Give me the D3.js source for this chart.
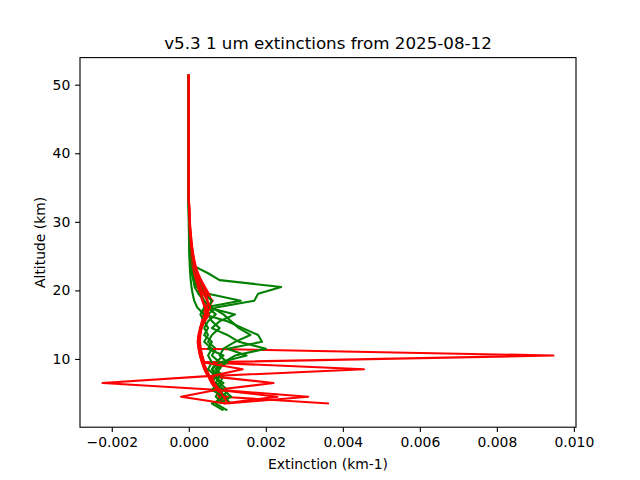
<!DOCTYPE html>
<html>
<head>
<meta charset="utf-8">
<script src="https://cdn.jsdelivr.net/npm/d3@7"></script>
<style>
  body { margin: 0; background: #fff; }
  svg { display: block; font-family: "DejaVu Sans", sans-serif; }
</style>
</head>
<body>
<svg id="chart" width="640" height="480"></svg>
<script>
// Altitude grid (km), top to bottom
const altitudes = [51.5,50.5,49.5,48.5,47.5,46.5,45.5,44.5,43.5,42.5,41.5,40.5,39.5,38.5,37.5,36.5,35.5,34.5,33.5,
  32.5,31.5,30.5,29.5,28.5,27.5,26.5,25.5,24.5,23.5,22.5,21.5,20.5,19.5,18.5,17.5,16.5,15.5,14.5,13.5,12.5,11.5,10.5,9.5,8.5,7.5,6.5,5.5,4.5,3.5,2.5];

// Green profiles (extinction, km-1)
const green1 = [0,0,0,0,0,0,0,0,0,0,0,0,0,0,0,0,0,0,0,
  0,0.000002,0.000005,0.000008,0.000012,0.000018,0.000025,0.000035,0.00005,0.00015,0.0005,0.0008,0.0024,0.0018,0.0017,0.0007,0.0005,0.0006,0.0008,0.0006,0.0005,0.0007,0.0006,0.0008,0.0007,0.0009,0.0008,0.0010,0.0009,0.0011,null];
const green2 = [0,0,0,0,0,0,0,0,0,0,0,0,0,0,0,0,0,0,0,
  0,0.000001,0.000002,0.000004,0.000006,0.00001,0.000015,0.00002,0.00003,0.00005,0.00008,0.00012,0.0002,0.0005,0.00135,0.0004,0.0003,0.0004,0.0005,0.0004,0.0006,0.0005,0.0009,0.0007,0.0006,0.0008,0.0007,0.0009,0.0008,0.0007,0.0010];
const green3 = [0,0,0,0,0,0,0,0,0,0,0,0,0,0,0,0,0,0,0,
  0,0,0,0,0.000003,0.000005,0.000008,0.000012,0.000018,0.000025,0.000035,0.00005,0.00007,0.0001,0.00014,0.00022,0.0004,0.0010,0.0014,0.0018,0.0019,0.0010,0.0015,0.0008,0.0006,0.0007,0.0006,0.0008,0.0007,0.0009,null];
const green4 = [0,0,0,0,0,0,0,0,0,0,0,0,0,0,0,0,0,0,0,
  0,0.000003,0.000006,0.00001,0.000015,0.000022,0.00003,0.00004,0.00006,0.00008,0.0001,0.00015,0.00025,0.0003,0.0004,0.0005,0.0012,0.0008,0.0006,0.0010,0.0013,0.0020,0.0012,0.0009,0.0008,0.0006,0.0009,0.0007,0.0010,0.0006,0.0009];
const green5 = [0,0,0,0,0,0,0,0,0,0,0,0,0,0,0,0,0,0,0,
  0,0.000002,0.000004,0.000007,0.00001,0.000015,0.00002,0.00003,0.00004,0.00006,0.00009,0.00012,0.00015,0.00025,0.0004,0.0006,0.0009,0.0011,0.0013,0.0016,0.0012,0.0009,0.0008,0.0010,0.0007,0.0008,0.0007,0.0009,0.0011,0.0008,null];
const green6 = [0,0,0,0,0,0,0,0,0,0,0,0,0,0,0,0,0,0,0,
  0,0.000004,0.000008,0.000014,0.00002,0.00003,0.00004,0.00006,0.00009,0.00013,0.00018,0.00025,0.00032,0.0004,0.0006,0.0005,0.0007,0.0005,0.0004,0.0005,0.0004,0.0006,0.0005,0.0006,0.0005,0.0007,0.0008,0.0006,0.0009,0.0007,null];

// Red profiles (extinction, km-1)
const red1 = [0,0,0,0,0,0,0,0,0,0,0,0,0,0,0,0,0,0,0,
  0.000005,0.00001,0.000015,0.00002,0.00003,0.00004,0.000055,0.00007,0.00009,0.00012,0.00016,0.00021,0.00027,0.00033,0.00038,0.00040,0.00038,0.00034,0.00030,0.00027,0.00026,0.00028,0.00947,0.00036,0.00043,0.00051,0.00060,0.00070,0.00082,0.00093,null];
const red2 = [0,0,0,0,0,0,0,0,0,0,0,0,0,0,0,0,0,0,0,
  0.00001,0.000015,0.000025,0.000035,0.00005,0.000065,0.000085,0.00011,0.00014,0.00018,0.00024,0.00032,0.00042,0.00052,0.00058,0.00055,0.00046,0.00038,0.00032,0.00029,0.00028,0.00030,0.00034,0.00039,0.00455,0.00056,0.00064,0.00076,0.00310,0.00098,null];
const red3 = [0,0,0,0,0,0,0,0,0,0,0,0,0,0,0,0,0,0,0,
  0.000003,0.000006,0.00001,0.000015,0.000022,0.00003,0.000042,0.000055,0.000075,0.0001,0.000135,0.00018,0.00023,0.00029,0.00035,0.00042,0.00046,0.00040,0.00033,0.00028,0.00025,0.00026,0.00029,0.00034,0.00040,0.00049,-0.00224,0.00068,0.00079,0.00088,null];
const red4 = [0,0,0,0,0,0,0,0,0,0,0,0,0,0,0,0,0,0,0,
  0.000006,0.000012,0.000018,0.000025,0.000035,0.00005,0.000065,0.000085,0.00011,0.00015,0.0002,0.00028,0.00036,0.00046,0.00062,0.00050,0.00044,0.00036,0.00031,0.00028,0.00027,0.00029,0.00033,0.00038,0.00046,0.00054,0.00220,0.00073,0.00086,0.00364,null];
const red5 = [0,0,0,0,0,0,0,0,0,0,0,0,0,0,0,0,0,0,0,
  0.000004,0.000008,0.000012,0.000018,0.000025,0.000035,0.000048,0.000062,0.00008,0.000105,0.00014,0.00019,0.00025,0.00031,0.00036,0.00044,0.00052,0.00042,0.00032,0.00026,0.00024,0.00027,0.00030,0.00035,0.00042,0.00050,0.00059,0.00071,0.00230,0.00090,null];
const red6 = [0,0,0,0,0,0,0,0,0,0,0,0,0,0,0,0,0,0,0,
  0.000005,0.00001,0.000016,0.000022,0.000032,0.000045,0.00006,0.00008,0.000105,0.00014,0.00019,0.00024,0.00030,0.00038,0.00048,0.00056,0.00044,0.00035,0.00029,0.00025,0.00023,0.00025,0.00029,0.00035,0.00044,0.00053,0.00063,0.00074,-0.00020,0.00096,null];
const red7 = [0,0,0,0,0,0,0,0,0,0,0,0,0,0,0,0,0,0,0,
  0.000007,0.000014,0.00002,0.00003,0.000042,0.000058,0.000078,0.0001,0.00013,0.00017,0.00023,0.00030,0.00038,0.00044,0.00049,0.00048,0.00042,0.00037,0.00033,0.00030,0.00029,0.00031,0.00035,0.00040,0.00140,0.00058,0.00066,0.00079,0.00090,0.00102,null];

const greenProfiles = [green1, green2, green3, green4, green5, green6];
const redProfiles = [red1, red2, red3, red4, red5, red6, red7];

const xTicks = [-0.002, 0.000, 0.002, 0.004, 0.006, 0.008, 0.010];
const yTicks = [10, 20, 30, 40, 50];

const titleText = "v5.3 1 um extinctions from 2025-08-12";
const xLabel = "Extinction (km-1)";
const yLabel = "Altitude (km)";

// ---- layout ----
const W = 640, H = 480;
const m = {left: 80, right: 576, top: 57.6, bottom: 427.2};
const svg = d3.select("#chart");

const allVals = greenProfiles.concat(redProfiles).flat().filter(v => v !== null);
const [xmin, xmax] = d3.extent(allVals);
const xpad = (xmax - xmin) * 0.05;
const [ymin, ymax] = d3.extent(altitudes);
const ypad = (ymax - ymin) * 0.05;

const x = d3.scaleLinear().domain([xmin - xpad, xmax + xpad]).range([m.left, m.right]);
const y = d3.scaleLinear().domain([ymin - ypad, ymax + ypad]).range([m.bottom, m.top]);

const line = d3.line()
  .defined(d => d[0] !== null)
  .x(d => x(d[0]))
  .y(d => y(d[1]));

const plot = svg.append("g");
const order = [];
for (let i = 0; i < Math.max(greenProfiles.length, redProfiles.length); i++) {
  if (greenProfiles[i]) order.push({vals: greenProfiles[i], color: "#008000"});
  if (redProfiles[i]) order.push({vals: redProfiles[i], color: "#ff0000"});
}
plot.selectAll("path.prof").data(order).enter().append("path")
  .attr("class", "prof")
  .attr("fill", "none")
  .attr("stroke", d => d.color)
  .attr("stroke-width", 2.08)
  .attr("stroke-linejoin", "round")
  .attr("stroke-linecap", "butt")
  .attr("d", d => line(d.vals.map((v, i) => [v, altitudes[i]])));

// axes
const fmt = v => d3.format(".3f")(v).replace("-", "\u2212");
const xAxis = d3.axisBottom(x).tickValues(xTicks).tickFormat(fmt).tickSizeOuter(0).tickSize(4.86).tickPadding(4.86);
const yAxis = d3.axisLeft(y).tickValues(yTicks).tickFormat(d3.format("d")).tickSizeOuter(0).tickSize(4.86).tickPadding(4.86);

const gx = svg.append("g").attr("transform", `translate(0,${m.bottom})`).call(xAxis);
const gy = svg.append("g").attr("transform", `translate(${m.left},0)`).call(yAxis);
[gx, gy].forEach(g => {
  g.select(".domain").remove();
  g.selectAll(".tick line").attr("stroke", "#000").attr("stroke-width", 1.11);
  g.selectAll(".tick text").attr("fill", "#000").attr("font-size", "13.9px").attr("font-family", "DejaVu Sans");
});

// spines
svg.append("rect")
  .attr("x", m.left).attr("y", m.top)
  .attr("width", m.right - m.left).attr("height", m.bottom - m.top)
  .attr("fill", "none").attr("stroke", "#000").attr("stroke-width", 1.11);

// title & labels
svg.append("text").attr("x", (m.left + m.right) / 2).attr("y", 49.3)
  .attr("text-anchor", "middle").attr("font-size", "16.7px").attr("fill", "#000").text(titleText);
svg.append("text").attr("x", (m.left + m.right) / 2).attr("y", 468.5)
  .attr("text-anchor", "middle").attr("font-size", "13.9px").attr("fill", "#000").text(xLabel);
svg.append("text").attr("transform", `translate(45,${(m.top + m.bottom) / 2}) rotate(-90)`)
  .attr("text-anchor", "middle").attr("font-size", "13.9px").attr("fill", "#000").text(yLabel);
</script>
</body>
</html>
